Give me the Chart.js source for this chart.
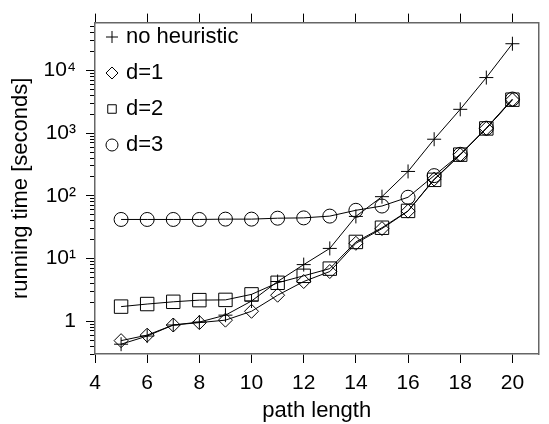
<!DOCTYPE html>
<html>
<head>
<meta charset="utf-8">
<script src="https://cdn.jsdelivr.net/npm/chart.js@4.4.0/dist/chart.umd.min.js"></script>
<style>
  html, body { margin: 0; padding: 0; background: #fff; }
  #wrap { width: 549px; height: 424px; position: relative; }
</style>
</head>
<body>
<div id="wrap"><canvas id="chart"></canvas></div>
<script>
// path length (x) and running time in seconds per variant
const PATH_LEN = [5, 6, 7, 8, 9, 10, 11, 12, 13, 14, 15, 16, 17, 18, 19, 20];
const NO_HEUR  = [0.43, 0.58, 0.87, 0.97, 1.25, 2.1, 4.3, 8.0, 14.5, 47, 97, 245, 800, 2400, 7700, 26700];
const D1       = [0.49, 0.60, 0.87, 0.95, 1.04, 1.44, 2.6, 4.3, 6.2, 17.5, 30, 57, 185, 450, 1190, 3400];
const D2       = [1.71, 1.88, 2.04, 2.17, 2.19, 2.68, 4.1, 5.3, 6.9, 18.4, 31, 57.5, 180, 454, 1190, 3420];
const D3       = [42, 42, 42, 42, 42.5, 42.5, 44, 44.5, 47.5, 58.8, 68.8, 95, 210, 460, 1200, 3500];
const SERIES   = ['no heuristic', 'd=1', 'd=2', 'd=3'];

const X_TICKS = [4, 6, 8, 10, 12, 14, 16, 18, 20];
const Y_MAJOR = [1, 10, 100, 1000, 10000];
const Y_LABELS = ['1', '10\u00B9', '10\u00B2', '10\u00B3', '10\u2074'];
const Y_MIN = 0.3, Y_MAX = 58000;

// minor log ticks (2..9 per decade) inside the range
const Y_MINOR = [];
[0.1, 1, 10, 100, 1000, 10000].forEach(d => {
  for (let m = 2; m <= 9; m++) { const v = d * m; if (v >= Y_MIN && v <= Y_MAX) Y_MINOR.push(v); }
});

Chart.defaults.font.family = '"Liberation Sans", Arial, Helvetica, sans-serif';
Chart.defaults.color = '#000';

const pts = arr => PATH_LEN.map((x, i) => ({ x, y: arr[i] }));
const ds = (label, arr, style, r) => ({
  label, data: pts(arr), pointStyle: style, pointRadius: r, pointHoverRadius: r,
  borderColor: '#000', backgroundColor: 'transparent', pointBackgroundColor: 'transparent',
  borderWidth: 1, pointBorderWidth: 1, tension: 0
});

const AXIS_BORDER = { display: true, color: '#666', width: 1.5 };
const setX = s => { s.ticks = X_TICKS.map(v => ({ value: v })); };

new Chart(document.getElementById('chart'), {
  type: 'line',
  data: {
    datasets: [
      ds(SERIES[0], NO_HEUR, 'cross', 7),
      ds(SERIES[1], D1, 'rectRot', 7),
      ds(SERIES[2], D2, 'rect', 9.5),
      ds(SERIES[3], D3, 'circle', 7)
    ]
  },
  options: {
    responsive: true, maintainAspectRatio: false, animation: false,
    layout: { padding: 0 },
    plugins: {
      tooltip: { enabled: false },
      legend: {
        position: 'chartArea', align: 'start',
        // empty title only pushes the entries down inside the plot frame
        title: { display: true, text: '', padding: 0, font: { size: 10 } },
        labels: { usePointStyle: true, boxWidth: 6, boxHeight: 8.5, padding: 14, color: '#000', font: { size: 22 } }
      }
    },
    scales: {
      x: {
        type: 'linear', position: 'bottom', min: 4, max: 21,
        afterBuildTicks: setX,
        ticks: { font: { size: 21 }, padding: 8, autoSkip: false, maxRotation: 0 },
        grid: { drawOnChartArea: false, tickLength: 9, tickColor: '#000' },
        border: AXIS_BORDER,
        title: { display: true, text: 'path length', font: { size: 22 }, padding: { top: 0, bottom: 0 } },
        afterFit: s => { s.height = 70; }
      },
      x2: {
        type: 'linear', position: 'top', min: 4, max: 21,
        afterBuildTicks: setX,
        ticks: { display: false },
        grid: { drawOnChartArea: false, tickLength: 9, tickColor: '#000' },
        border: AXIS_BORDER,
        afterFit: s => { s.height = 14; }
      },
      y: {
        type: 'logarithmic', position: 'left', weight: 1, min: Y_MIN, max: Y_MAX,
        afterBuildTicks: s => { s.ticks = Y_MAJOR.map(v => ({ value: v })); },
        ticks: { font: { size: 21 }, padding: 10, autoSkip: false,
                 callback: v => { const i = Y_MAJOR.indexOf(v); return i < 0 ? '' : Y_LABELS[i]; } },
        grid: { drawOnChartArea: false, tickLength: 9, tickColor: '#000' },
        border: AXIS_BORDER,
        title: { display: true, text: 'running time [seconds]', font: { size: 22 }, padding: { top: 8, bottom: 0 } },
        afterFit: s => { s.width = 95; }
      },
      yMinor: {
        type: 'logarithmic', position: 'left', weight: 0, min: Y_MIN, max: Y_MAX,
        afterBuildTicks: s => { s.ticks = Y_MINOR.map(v => ({ value: v })); },
        ticks: { display: false },
        grid: { drawOnChartArea: false, tickLength: 5, tickColor: '#000' },
        border: { display: false },
        afterFit: s => { s.width = 0; }
      },
      y2: {
        type: 'logarithmic', position: 'right', min: Y_MIN, max: Y_MAX,
        ticks: { display: false },
        grid: { drawOnChartArea: false, drawTicks: false },
        border: AXIS_BORDER,
        afterFit: s => { s.width = 1; }
      }
    }
  }
});
</script>
</body>
</html>
